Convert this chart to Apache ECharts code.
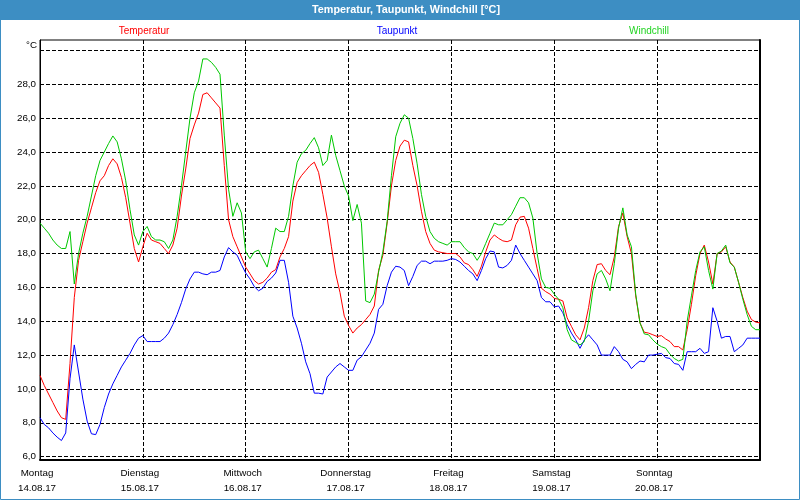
<!DOCTYPE html>
<html>
<head>
<meta charset="utf-8">
<script src="https://cdn.jsdelivr.net/npm/echarts@6/dist/echarts.min.js"></script>
<style>
html,body{margin:0;padding:0;background:#ffffff;}
#c{width:800px;height:500px;}
</style>
</head>
<body>
<div id="c"></div>
<script>
// ---- data (hourly values, Monday 14.08.17 00:00 to Monday 21.08.17 00:00) ----
const chartTitle = 'Temperatur, Taupunkt, Windchill [°C]';
const seriesNames = ['Temperatur', 'Taupunkt', 'Windchill'];
const dayNames = ['Montag', 'Dienstag', 'Mittwoch', 'Donnerstag', 'Freitag', 'Samstag', 'Sonntag'];
const dayDates = ['14.08.17', '15.08.17', '16.08.17', '17.08.17', '18.08.17', '19.08.17', '20.08.17'];
const yTickValues = [6, 8, 10, 12, 14, 16, 18, 20, 22, 24, 26, 28, 30];
const yLabelValues = [6, 8, 10, 12, 14, 16, 18, 20, 22, 24, 26, 28];

const temperatur = [
  10.8, 10.2, 9.7, 9.2, 8.7, 8.3, 8.2, 11.5, 15.4, 17.6, 18.7, 19.8,
  20.7, 21.6, 22.3, 22.6, 23.2, 23.6, 23.3, 22.5, 21.3, 19.8, 18.3, 17.5,
  18.4, 19.2, 18.8, 18.7, 18.6, 18.3, 18.0, 18.5, 19.5, 21.4, 23.0, 24.8,
  25.6, 26.3, 27.4, 27.5, 27.2, 26.9, 26.6, 23.2, 20.0, 19.0, 18.4, 17.8,
  17.2, 16.8, 16.4, 16.2, 16.3, 16.55, 16.9, 17.05, 17.8, 18.3, 19.0, 21.1,
  22.2, 22.6, 22.9, 23.2, 23.4, 22.8, 21.5, 20.1, 18.4, 16.8, 15.7, 14.3,
  13.75, 13.3, 13.6, 13.8, 14.1, 14.4, 14.9, 17.0, 17.9, 19.8, 22.0, 23.5,
  24.35, 24.7, 24.6, 23.2, 22.0, 20.5, 19.3, 18.6, 18.2, 18.1, 18.05, 18.0,
  18.0, 18.0, 17.8, 17.45, 17.35, 17.05, 16.65, 17.25, 18.1, 18.8, 19.1, 18.9,
  18.75, 18.7, 18.8, 19.7, 20.15, 20.2, 19.5, 18.3, 17.1, 15.95, 15.75, 15.6,
  15.35, 15.3, 15.2, 14.2, 13.7, 13.2, 12.9, 13.6, 14.8, 16.4, 17.35, 17.4,
  17.0, 16.75, 17.8, 19.6, 20.4, 19.0, 18.0, 15.5, 13.9, 13.35, 13.3, 13.2,
  13.1, 13.15, 12.95, 12.8, 12.5, 12.5, 12.3, 13.5, 15.0, 16.7, 18.0, 18.5,
  17.5, 16.2, 18.0, 18.1, 18.4, 17.5, 17.2, 16.3, 15.4, 14.6, 14.1, 13.95, 13.9
];

const taupunkt = [
  8.3, 7.9, 7.7, 7.4, 7.15, 6.95, 7.4, 10.6, 12.6, 11.0, 9.4, 8.1,
  7.35, 7.3, 7.9, 8.9, 9.7, 10.3, 10.8, 11.3, 11.7, 12.1, 12.6, 13.0,
  13.15, 12.8, 12.8, 12.8, 12.8, 13.0, 13.3, 13.8, 14.4, 15.1, 15.9, 16.5,
  16.9, 16.9, 16.8, 16.75, 16.9, 16.9, 17.0, 17.8, 18.35, 18.1, 17.9, 17.35,
  16.85, 16.5, 16.05, 15.8, 15.95, 16.35, 16.55, 16.85, 17.6, 17.6, 16.3, 14.3,
  13.6, 12.7, 11.6, 10.9, 9.75, 9.75, 9.7, 10.7, 11.0, 11.3, 11.5, 11.3,
  11.1, 11.1, 11.7, 11.9, 12.3, 12.7, 13.3, 14.7, 15.0, 16.1, 16.9, 17.25,
  17.2, 17.0, 16.1, 16.65, 17.3, 17.55, 17.55, 17.4, 17.55, 17.55, 17.55, 17.6,
  17.7, 17.65, 17.5, 17.25, 17.0, 16.8, 16.4, 17.0, 17.7, 18.15, 18.1, 17.2,
  17.15, 17.3, 17.6, 18.5, 18.0, 17.6, 17.2, 16.8, 16.4, 15.4, 15.15, 15.15,
  14.85, 14.9, 14.5, 13.8, 13.3, 12.9, 12.4, 12.9, 13.2, 12.9, 12.6, 12.0,
  12.0, 12.0, 12.5, 12.2, 11.75, 11.6, 11.2, 11.45, 11.65, 11.6, 12.0, 12.0,
  12.05, 12.1, 11.85, 11.8, 11.5, 11.45, 11.1, 12.2, 12.2, 12.2, 12.4, 12.1,
  12.2, 14.8, 14.0, 13.0, 13.1, 13.1, 12.2, 12.4, 12.6, 13.0, 13.0, 13.0, 13.0
];

const windchill = [
  19.8, 19.5, 19.2, 18.8, 18.5, 18.3, 18.3, 19.3, 16.2, 18.0, 19.2, 20.2,
  21.4, 22.6, 23.5, 24.0, 24.5, 24.95, 24.6, 23.6, 22.3, 20.6, 19.1, 18.5,
  19.3, 19.6, 19.0, 18.8, 18.8, 18.7, 18.3, 18.8, 20.2, 22.0, 24.0, 26.0,
  27.5, 28.2, 29.5, 29.5, 29.3, 29.0, 28.6, 25.0, 21.8, 20.2, 21.0, 20.4,
  18.1, 17.7, 18.1, 18.2, 17.7, 17.2, 18.3, 19.5, 19.3, 19.3, 20.2, 22.0,
  23.4, 23.9, 24.1, 24.5, 24.85, 24.25, 23.2, 23.5, 25.0, 23.8, 22.9, 22.0,
  21.4, 19.95, 20.9, 19.8, 15.2, 15.1, 15.6, 16.9, 18.1, 19.9, 22.6, 24.9,
  25.7, 26.2, 26.0, 24.8, 23.3, 21.5, 20.2, 19.3, 18.9, 18.7, 18.6, 18.5,
  18.7, 18.7, 18.7, 18.35, 18.1, 18.0, 17.6, 18.0, 18.6, 19.2, 19.8, 19.7,
  19.7, 20.0, 20.3, 20.8, 21.3, 21.3, 21.0, 20.1, 18.0, 16.5, 16.0, 15.95,
  15.6, 15.3, 14.8, 13.5, 12.9, 12.75, 12.6, 12.8, 14.0, 15.8, 16.8, 17.0,
  16.5, 15.8, 17.4, 19.5, 20.7, 19.1, 18.4, 15.6, 13.9, 13.25, 13.2, 12.9,
  12.65, 12.5, 12.4, 12.05, 11.8, 11.65, 11.75, 14.0, 15.5, 17.0, 18.1, 18.4,
  17.0, 15.9, 18.0, 18.15, 18.5, 17.45, 17.2, 16.3, 15.3, 14.4, 13.7, 13.5, 13.5
];

// hour offsets of the samples (0 = Monday 00:00)
const hours = temperatur.map((_, i) => i);

// ---- chart ----
const FONT = "'Liberation Sans', Arial, sans-serif";
const frameBlue = '#3d8ec3';
const dash = [4, 2];
const yMin = 5.8, yMax = 30.62;

function pairs(values) { return hours.map((h, i) => [h, values[i]]); }

const chart = echarts.init(document.getElementById('c'), null, { renderer: 'canvas' });
chart.setOption({
  animation: false,
  backgroundColor: '#ffffff',
  grid: {
    left: 40, right: 40, top: 40, bottom: 40,
    show: true, borderColor: '#000', borderWidth: 1, backgroundColor: '#ffffff'
  },
  xAxis: {
    type: 'value', min: 0, max: 168, interval: 24,
    axisLine: { show: true, onZero: false, lineStyle: { color: '#000', width: 2 } },
    axisTick: { show: false },
    splitLine: { show: true, lineStyle: { color: '#000', width: 1, type: dash } },
    axisLabel: {
      color: '#000', fontFamily: FONT, fontSize: 9.8, lineHeight: 15, margin: 6,
      padding: [0, 6, 0, 0],
      formatter: function (v) {
        const i = Math.round(v / 24);
        return i < dayNames.length ? dayNames[i] + '\n' + dayDates[i] : '';
      }
    }
  },
  yAxis: [{
    type: 'value', min: yMin, max: yMax,
    name: '°C', nameLocation: 'end', nameGap: -5,
    nameTextStyle: { color: '#000', fontFamily: FONT, fontSize: 9.8, align: 'right', verticalAlign: 'middle', padding: [0, 3, 0, 0] },
    axisLine: { show: true, onZero: false, lineStyle: { color: '#000', width: 1 } },
    axisTick: { show: false, customValues: yTickValues },
    splitLine: { show: true, lineStyle: { color: '#000', width: 1, type: dash } },
    axisLabel: {
      customValues: yLabelValues, color: '#000', fontFamily: FONT, fontSize: 9.8, margin: 4,
      formatter: function (v) { return v.toFixed(1).replace('.', ','); }
    }
  }, {
    type: 'value', min: yMin, max: yMax, position: 'right',
    axisLine: { show: true, onZero: false, lineStyle: { color: '#000', width: 2 } },
    axisTick: { show: false }, axisLabel: { show: false }, splitLine: { show: false }
  }],
  series: [
    { name: seriesNames[0], type: 'line', data: pairs(temperatur), showSymbol: false, symbol: 'none',
      lineStyle: { color: '#ff0000', width: 1 }, itemStyle: { color: '#ff0000' }, z: 3 },
    { name: seriesNames[1], type: 'line', data: pairs(taupunkt), showSymbol: false, symbol: 'none',
      lineStyle: { color: '#0000ff', width: 1 }, itemStyle: { color: '#0000ff' }, z: 3 },
    { name: seriesNames[2], type: 'line', data: pairs(windchill), showSymbol: false, symbol: 'none',
      lineStyle: { color: '#00c800', width: 1 }, itemStyle: { color: '#00c800' }, z: 4 }
  ],
  graphic: [
    { type: 'rect', z: 0, shape: { x: 0, y: 0, width: 800, height: 20 }, style: { fill: frameBlue } },
    { type: 'rect', z: 0, shape: { x: 0.5, y: 0.5, width: 799, height: 499 }, style: { fill: 'none', stroke: frameBlue, lineWidth: 1 } },
    { type: 'text', z: 1, x: 406, y: 10, style: { text: chartTitle, fill: '#ffffff', font: 'bold 10.8px ' + FONT, align: 'center', verticalAlign: 'middle' } },
    { type: 'text', z: 1, x: 144, y: 31, style: { text: seriesNames[0], fill: '#ff0000', font: '10px ' + FONT, align: 'center', verticalAlign: 'middle' } },
    { type: 'text', z: 1, x: 397, y: 31, style: { text: seriesNames[1], fill: '#0000ff', font: '10px ' + FONT, align: 'center', verticalAlign: 'middle' } },
    { type: 'text', z: 1, x: 649, y: 31, style: { text: seriesNames[2], fill: '#22d422', font: '10px ' + FONT, align: 'center', verticalAlign: 'middle' } }
  ]
});
</script>
</body>
</html>
